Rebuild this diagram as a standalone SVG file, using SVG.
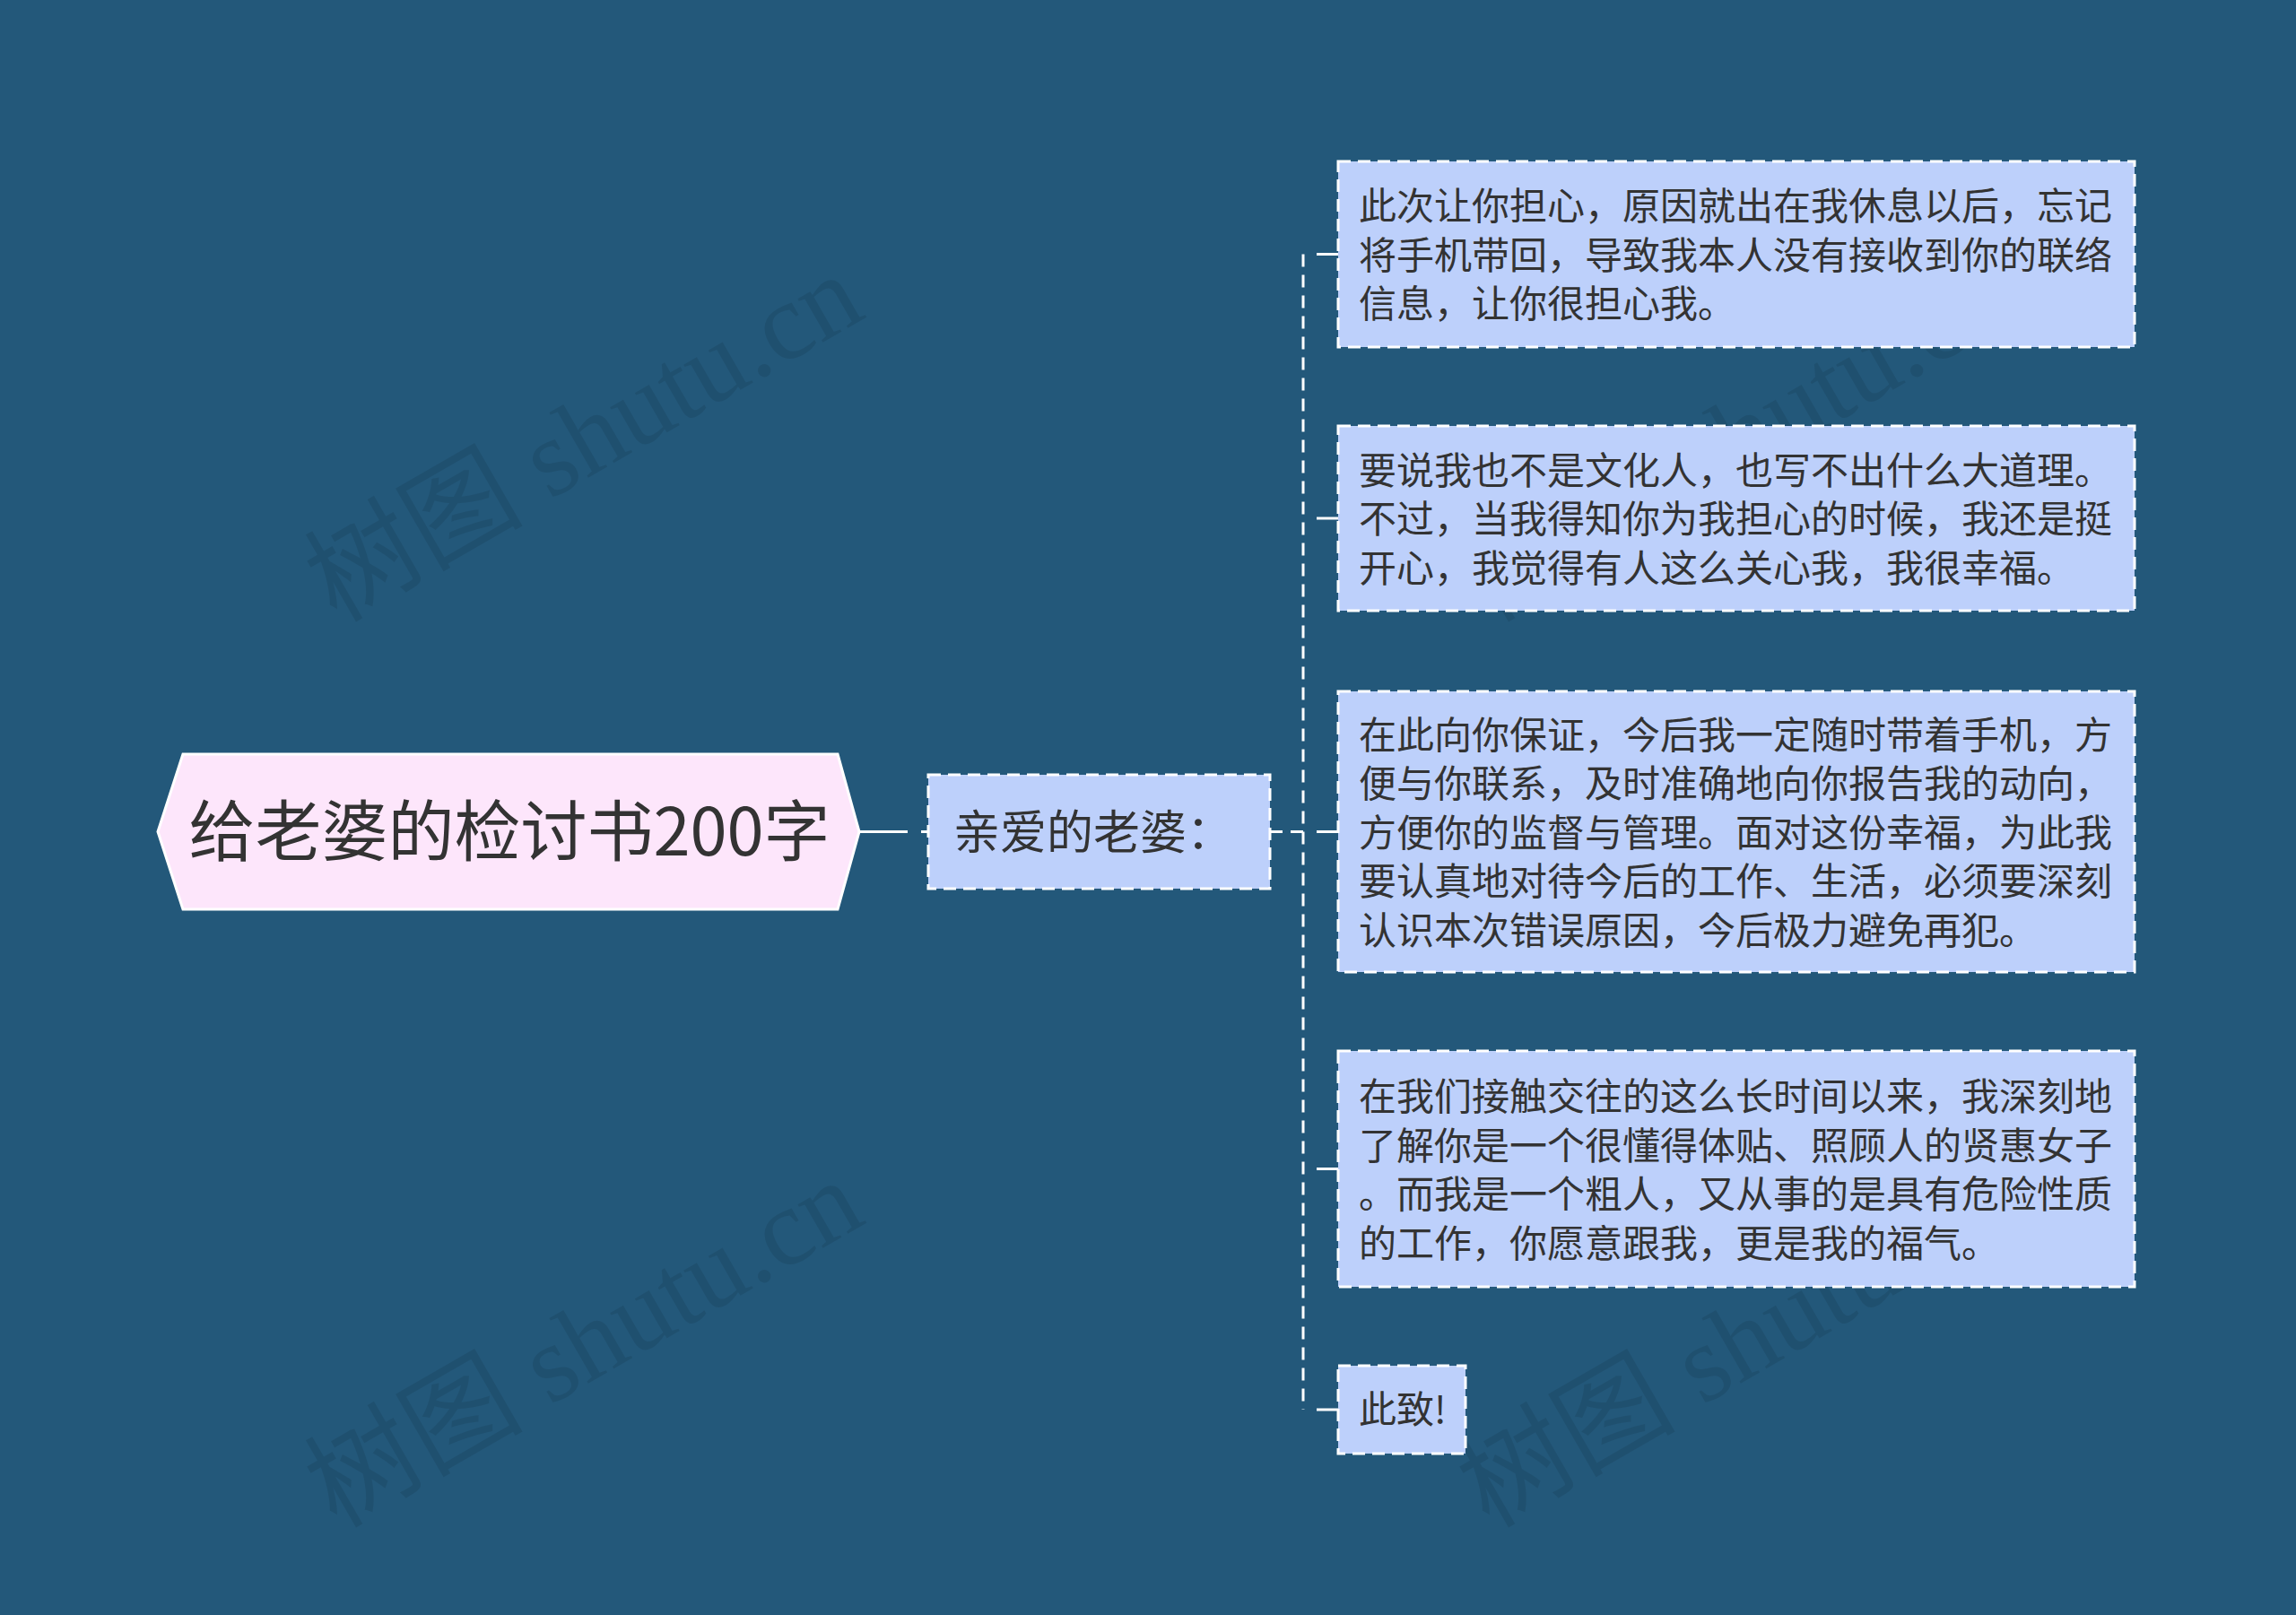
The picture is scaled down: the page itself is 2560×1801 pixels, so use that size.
<svg xmlns="http://www.w3.org/2000/svg" width="2560" height="1801" viewBox="0 0 2560 1801">
<style>
.bg{fill:#23587a}
.wm{font-family:"Liberation Serif","Noto Sans CJK SC",serif;font-size:122px;fill:#000;fill-opacity:0.09}
.leaf rect{fill:#bdd0fb;stroke:#ffffff;stroke-width:3;stroke-dasharray:14 8}
.leaf text,.mid text{font-family:"Noto Sans CJK SC","Noto Sans",sans-serif;fill:#333333}
.leaf text{font-size:42px}
.mid rect{fill:#bdd0fb;stroke:#ffffff;stroke-width:3;stroke-dasharray:14 8}
.mid text{font-size:52px}
.root polygon{fill:#fde6fb;stroke:#ffffff;stroke-width:3}
.root text{font-family:"Noto Sans CJK SC","Noto Sans",sans-serif;font-size:74px;fill:#333333}
.conn path{fill:none;stroke:#ffffff;stroke-width:3}
.conn .d{stroke-dasharray:14 9}
</style>
<rect class="bg" x="0" y="0" width="2560" height="1801"/>
<g id="watermarks">
<text class="wm" transform="translate(375,695) rotate(-30)">树图 shutu.cn</text>
<text class="wm" transform="translate(1660,695) rotate(-30)">树图 shutu.cn</text>
<text class="wm" transform="translate(375,1705) rotate(-30)">树图 shutu.cn</text>
<text class="wm" transform="translate(1660,1705) rotate(-30)">树图 shutu.cn</text>
</g>
<g id="connectors" class="conn">
<path d="M958 927.5 H1012"/>
<path d="M1027 927.5 H1035"/>
<path class="d" d="M1416 927.5 H1453"/>
<path class="d" d="M1453 283.5 V1572"/>
<path d="M1468 283.5 H1492"/>
<path d="M1468 578 H1492"/>
<path d="M1468 927.5 H1492"/>
<path d="M1468 1303.5 H1492"/>
<path d="M1468 1572 H1492"/>
</g>
<g id="root" class="root">
<polygon points="176,927.5 204,841 934,841 958,927.5 934,1014 204,1014"/>
<text x="568" y="954" text-anchor="middle">给老婆的检讨书200字</text>
</g>
<g id="mid" class="mid">
<rect x="1035" y="864" width="381" height="127"/>
<text x="1063" y="947">亲爱的老婆：</text>
</g>
<g id="leaf1" class="leaf">
<rect x="1492" y="180" width="888" height="207"/>
<text x="1515" y="245">此次让你担心，原因就出在我休息以后，忘记</text>
<text x="1515" y="299.5">将手机带回，导致我本人没有接收到你的联络</text>
<text x="1515" y="354">信息，让你很担心我。</text>
</g>
<g id="leaf2" class="leaf">
<rect x="1492" y="475" width="888" height="206"/>
<text x="1515" y="539.5">要说我也不是文化人，也写不出什么大道理。</text>
<text x="1515" y="594">不过，当我得知你为我担心的时候，我还是挺</text>
<text x="1515" y="648.5">开心，我觉得有人这么关心我，我很幸福。</text>
</g>
<g id="leaf3" class="leaf">
<rect x="1492" y="771" width="888" height="313"/>
<text x="1515" y="834.5">在此向你保证，今后我一定随时带着手机，方</text>
<text x="1515" y="889">便与你联系，及时准确地向你报告我的动向，</text>
<text x="1515" y="943.5">方便你的监督与管理。面对这份幸福，为此我</text>
<text x="1515" y="998">要认真地对待今后的工作、生活，必须要深刻</text>
<text x="1515" y="1052.5">认识本次错误原因，今后极力避免再犯。</text>
</g>
<g id="leaf4" class="leaf">
<rect x="1492" y="1172" width="888" height="263"/>
<text x="1515" y="1238">在我们接触交往的这么长时间以来，我深刻地</text>
<text x="1515" y="1292.5">了解你是一个很懂得体贴、照顾人的贤惠女子</text>
<text x="1515" y="1347">。而我是一个粗人，又从事的是具有危险性质</text>
<text x="1515" y="1401.5">的工作，你愿意跟我，更是我的福气。</text>
</g>
<g id="leaf5" class="leaf">
<rect x="1492" y="1523" width="142" height="98"/>
<text x="1515" y="1587">此致!</text>
</g>
</svg>
